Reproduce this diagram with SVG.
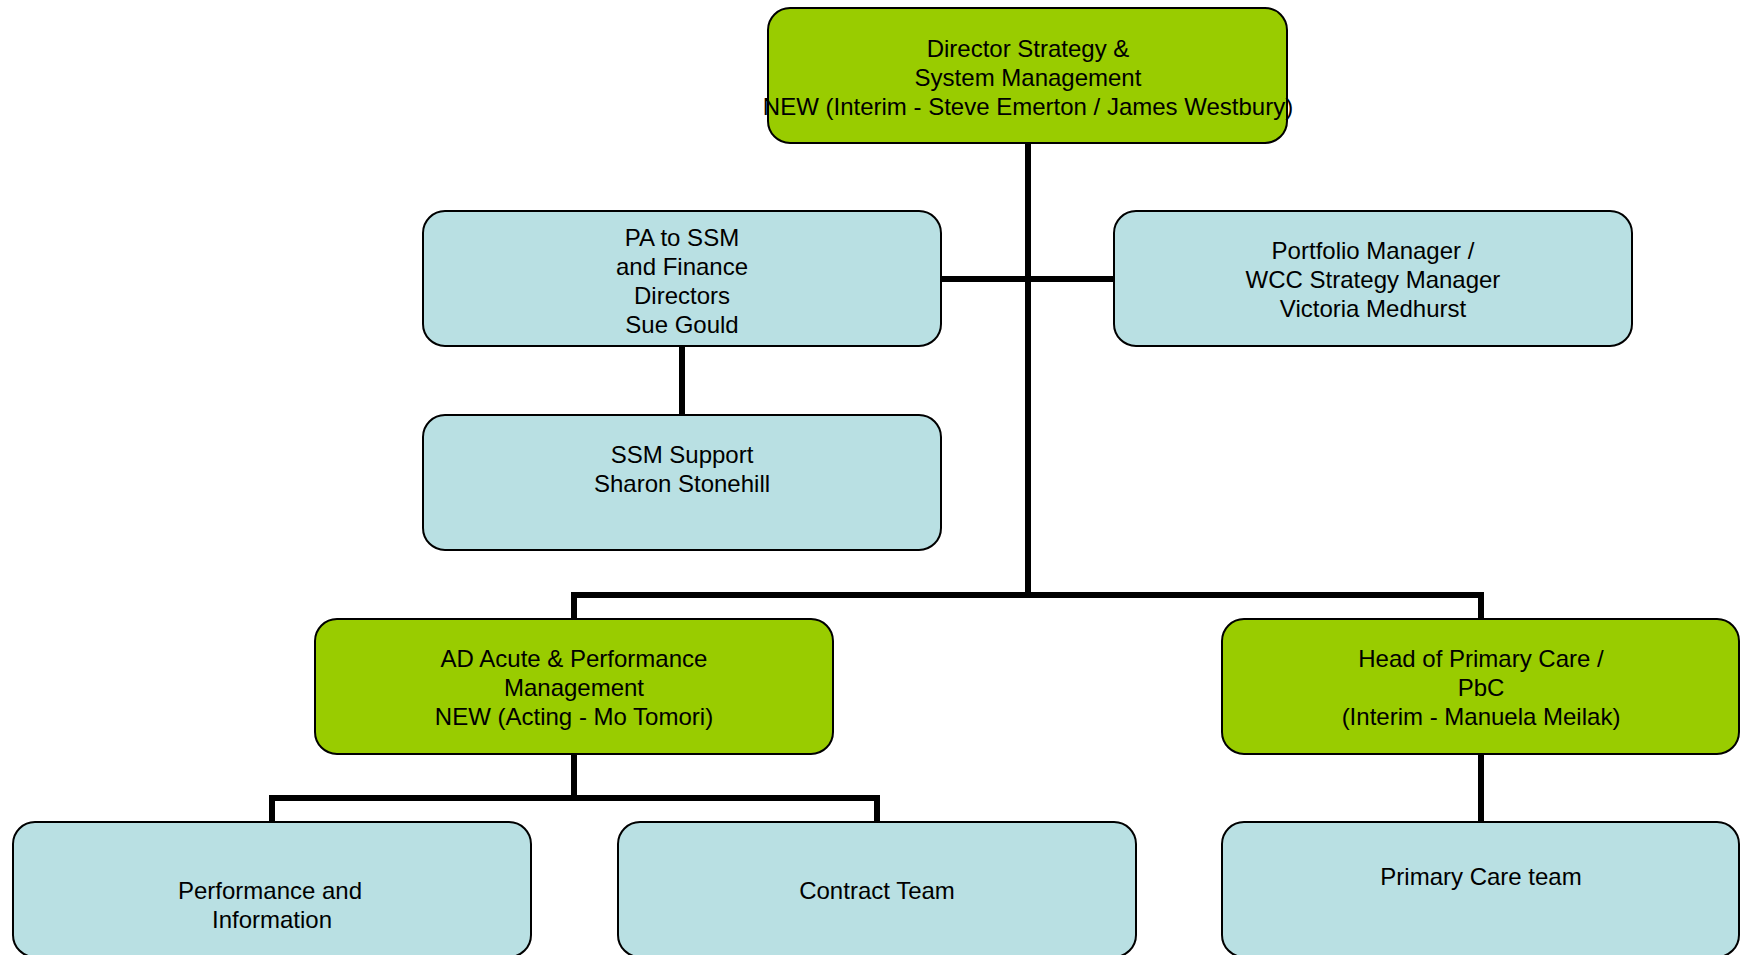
<svg xmlns="http://www.w3.org/2000/svg" width="1740" height="955" viewBox="0 0 1740 955">
<style>
.box{stroke:#000;stroke-width:2}
.g{fill:#99CC00}
.b{fill:#B9E0E3}
.t{font-family:"Liberation Sans",Arial,sans-serif;font-size:24px;fill:#000;text-anchor:middle}
.c{fill:none;stroke:#000;stroke-width:6;stroke-linecap:square;stroke-linejoin:miter}
</style>
<rect width="1740" height="955" fill="#fff"/>
<g id="connectors">
<path class="c" d="M1028 143 V594"/>
<path class="c" d="M941 279 H1114"/>
<path class="c" d="M682 346 V415"/>
<path class="c" d="M574 619 V595 H1481 V619"/>
<path class="c" d="M574 753 V798"/>
<path class="c" d="M272 822 V798 H877 V822"/>
<path class="c" d="M1481 753 V822"/>
</g>
<g id="director">
<rect class="box g" x="768" y="8" width="519" height="135" rx="22"/>
<text class="t" x="1028" y="57">Director Strategy &amp;</text>
<text class="t" x="1028" y="86">System Management</text>
<text class="t" x="1028" y="115">NEW (Interim - Steve Emerton / James Westbury)</text>
</g>
<g id="pa">
<rect class="box b" x="423" y="211" width="518" height="135" rx="22"/>
<text class="t" x="682" y="246">PA to SSM</text>
<text class="t" x="682" y="275">and Finance</text>
<text class="t" x="682" y="304">Directors</text>
<text class="t" x="682" y="333">Sue Gould</text>
</g>
<g id="portfolio">
<rect class="box b" x="1114" y="211" width="518" height="135" rx="22"/>
<text class="t" x="1373" y="259">Portfolio Manager /</text>
<text class="t" x="1373" y="288">WCC Strategy Manager</text>
<text class="t" x="1373" y="317">Victoria Medhurst</text>
</g>
<g id="ssm-support">
<rect class="box b" x="423" y="415" width="518" height="135" rx="22"/>
<text class="t" x="682" y="463">SSM Support</text>
<text class="t" x="682" y="492">Sharon Stonehill</text>
</g>
<g id="ad-acute">
<rect class="box g" x="315" y="619" width="518" height="135" rx="22"/>
<text class="t" x="574" y="667">AD Acute &amp; Performance</text>
<text class="t" x="574" y="696">Management</text>
<text class="t" x="574" y="725">NEW (Acting - Mo Tomori)</text>
</g>
<g id="head-primary">
<rect class="box g" x="1222" y="619" width="517" height="135" rx="22"/>
<text class="t" x="1481" y="667">Head of Primary Care /</text>
<text class="t" x="1481" y="696">PbC</text>
<text class="t" x="1481" y="725">(Interim - Manuela Meilak)</text>
</g>
<g id="performance">
<rect class="box b" x="13" y="822" width="518" height="135" rx="22"/>
<text class="t" x="270" y="899">Performance and</text>
<text class="t" x="272" y="928">Information</text>
</g>
<g id="contract">
<rect class="box b" x="618" y="822" width="518" height="135" rx="22"/>
<text class="t" x="877" y="899">Contract Team</text>
</g>
<g id="primary-team">
<rect class="box b" x="1222" y="822" width="517" height="135" rx="22"/>
<text class="t" x="1481" y="885">Primary Care team</text>
</g>
</svg>
